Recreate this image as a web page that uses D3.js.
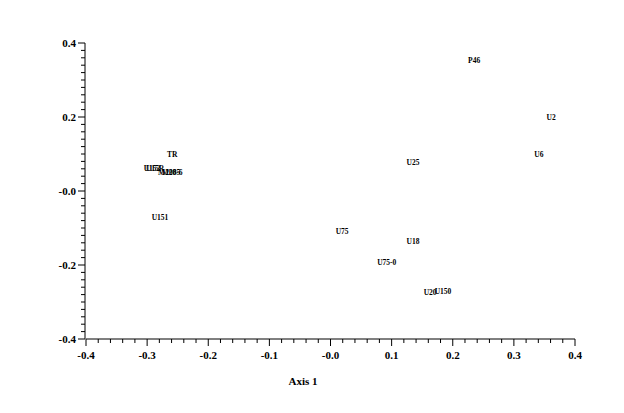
<!DOCTYPE html>
<html><head><meta charset="utf-8">
<script src="https://cdn.jsdelivr.net/npm/d3@7"></script>
<style>body{margin:0;background:#fff}svg{display:block}</style>
</head><body><svg id="c" width="624" height="413"></svg>
<script>
const labels = ["P46","U2","U6","U25","TR","U152","U15R","M2085","M20-6","U151","U75","U18","U75-0","U20","U150"];
const axis1 = [0.235,0.361,0.341,0.135,-0.259,-0.292,-0.287,-0.264,-0.259,-0.279,0.019,0.135,0.092,0.163,0.184];
const axis2 = [0.349,0.197,0.097,0.073,0.095,0.057,0.057,0.046,0.046,-0.073,-0.111,-0.138,-0.197,-0.278,-0.273];
const xMajor = [-0.4,-0.3,-0.2,-0.1,0,0.1,0.2,0.3,0.4];
const yMajor = [0.4,0.2,0,-0.2,-0.4];
const xTickLabels = ["-0.4","-0.3","-0.2","-0.1","-0.0","0.1","0.2","0.3","0.4"];
const yTickLabels = ["0.4","0.2","-0.0","-0.2","-0.4"];

const svg = d3.select("#c");
const x = d3.scaleLinear().domain([-0.4,0.4]).range([86,575]);
const y = d3.scaleLinear().domain([-0.4,0.4]).range([339,43]);
const font = "'Liberation Serif','Times New Roman',serif";

const xMinor = d3.range(-0.4,0.4001,0.02).filter(v=>!xMajor.some(m=>Math.abs(m-v)<1e-6));
const yMinor = d3.range(-0.4,0.4001,0.02).filter(v=>!yMajor.some(m=>Math.abs(m-v)<1e-6));

// X axis
const gx = svg.append("g").attr("transform","translate(0,339)");
gx.append("line").attr("x1",x(-0.4)).attr("x2",x(0.4)).attr("stroke","#000");
gx.selectAll(".mn").data(xMinor).join("line").attr("x1",d=>x(d)).attr("x2",d=>x(d)).attr("y1",0).attr("y2",4).attr("stroke","#000");
gx.selectAll(".mj").data(xMajor).join("line").attr("x1",d=>x(d)).attr("x2",d=>x(d)).attr("y1",0).attr("y2",7).attr("stroke","#000");
gx.selectAll("text").data(xMajor).join("text").attr("x",d=>x(d)).attr("y",20)
  .attr("text-anchor","middle").attr("font-family",font).attr("font-weight","bold").attr("font-size",11)
  .text((d,i)=>xTickLabels[i]);

// Y axis
const gy = svg.append("g").attr("transform","translate(85,0)");
gy.append("line").attr("y1",y(-0.4)).attr("y2",y(0.4)).attr("stroke","#000");
gy.selectAll(".mn").data(yMinor).join("line").attr("y1",d=>y(d)).attr("y2",d=>y(d)).attr("x1",0).attr("x2",-4).attr("stroke","#000");
gy.selectAll(".mj").data(yMajor).join("line").attr("y1",d=>y(d)).attr("y2",d=>y(d)).attr("x1",0).attr("x2",-7).attr("stroke","#000");
gy.selectAll("text").data(yMajor).join("text").attr("x",-9).attr("y",d=>y(d)+4)
  .attr("text-anchor","end").attr("font-family",font).attr("font-weight","bold").attr("font-size",11)
  .text((d,i)=>yTickLabels[i]);

// axis title
svg.append("text").attr("x",303).attr("y",385).attr("text-anchor","middle")
  .attr("font-family",font).attr("font-weight","bold").attr("font-size",11).text("Axis 1");

// point labels
svg.selectAll(".pt").data(labels).join("text").attr("class","pt")
  .attr("x",(d,i)=>x(axis1[i])).attr("y",(d,i)=>y(axis2[i])+1.5)
  .attr("text-anchor","middle").attr("font-family",font).attr("font-weight","bold").attr("font-size",7.5)
  .text(d=>d);
</script></body></html>
